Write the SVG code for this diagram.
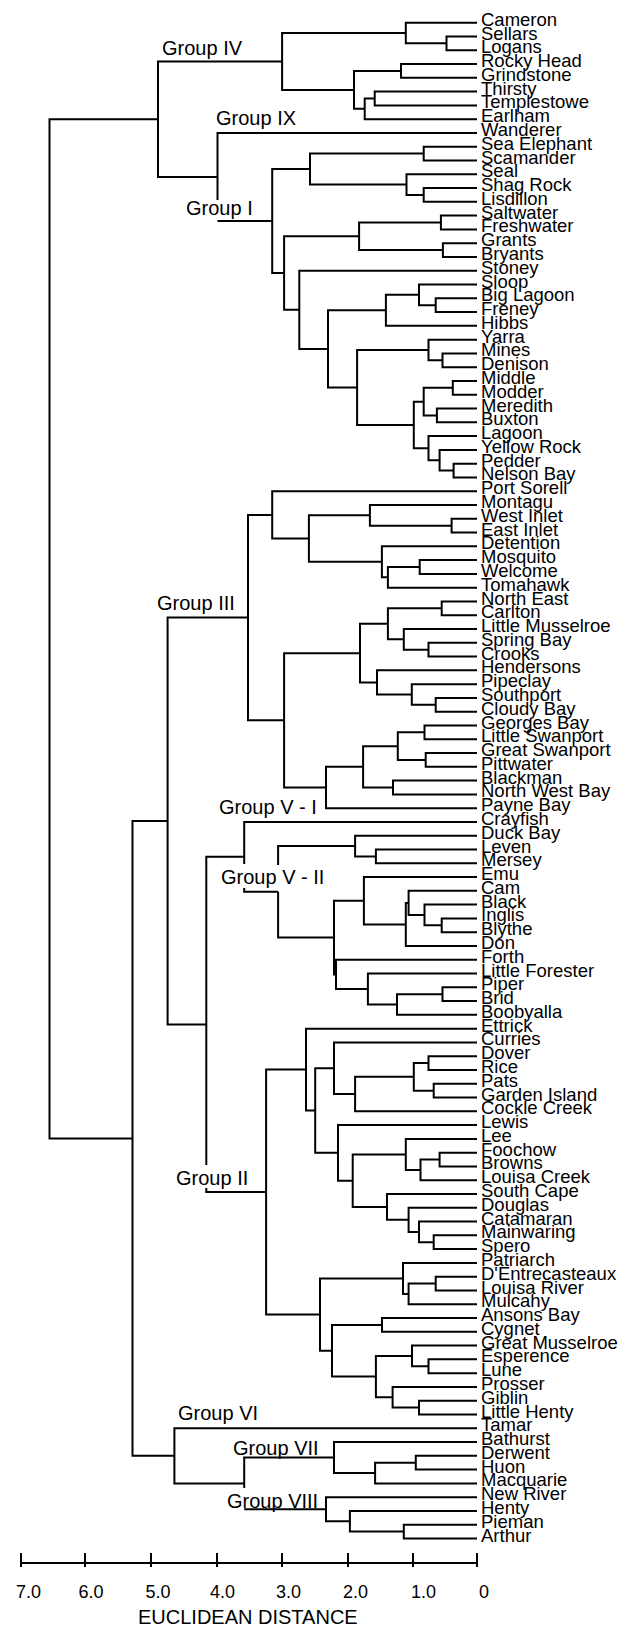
<svg xmlns="http://www.w3.org/2000/svg" width="620" height="1628" viewBox="0 0 620 1628">
<style>
.c{fill:none;stroke:#000;stroke-width:2;vector-effect:non-scaling-stroke;stroke-linejoin:miter}
.a{fill:none;stroke:#000;stroke-width:2}
.l text{font-family:"Liberation Sans",Arial,sans-serif;font-size:18.5px;fill:#000}
.g{font-family:"Liberation Sans",Arial,sans-serif;font-size:20px;fill:#000}
.t{font-family:"Liberation Sans",Arial,sans-serif;font-size:18px;fill:#000}
</style>
<rect width="620" height="1628" fill="#fff"/>
<g id="connectors" transform="matrix(1 0 0 13.78 0 8.92)">
<path class="c" d="M477 2H446.5V3H477"/>
<path class="c" d="M477 1H405.8V2.5H446.5"/>
<path class="c" d="M477 4H401V5H477"/>
<path class="c" d="M477 6H374.7V7H477"/>
<path class="c" d="M374.7 6.5H364.7V8H477"/>
<path class="c" d="M401 4.5H354V7.25H364.7"/>
<path class="c" d="M405.8 1.75H282.1V5.875H354"/>
<path class="c" d="M282.1 3.8125H158V12.198H217.5"/>
<path class="c" d="M477 9H217.5V13.867M217.5 15.3965H272.2"/>
<path class="c" d="M477 10H423.7V11H477"/>
<path class="c" d="M477 13H423.7V14H477"/>
<path class="c" d="M477 12H406.5V13.5H423.7"/>
<path class="c" d="M423.7 10.5H310V12.75H406.5"/>
<path class="c" d="M477 15H440.9V16H477"/>
<path class="c" d="M477 17H442.9V18H477"/>
<path class="c" d="M440.9 15.5H359.1V17.5H442.9"/>
<path class="c" d="M477 21H435.7V22H477"/>
<path class="c" d="M477 20H419V21.5H435.7"/>
<path class="c" d="M419 20.75H385.9V23H477"/>
<path class="c" d="M477 25H442.5V26H477"/>
<path class="c" d="M477 24H428.5V25.5H442.5"/>
<path class="c" d="M477 27H452.8V28H477"/>
<path class="c" d="M477 29H436.9V30H477"/>
<path class="c" d="M452.8 27.5H423.7V29.5H436.9"/>
<path class="c" d="M477 33H453.6V34H477"/>
<path class="c" d="M477 32H439.6V33.5H453.6"/>
<path class="c" d="M477 31H428.5V32.75H439.6"/>
<path class="c" d="M423.7 28.5H413.8V31.875H428.5"/>
<path class="c" d="M428.5 24.75H357.1V30.1875H413.8"/>
<path class="c" d="M385.9 21.875H328V27.46875H357.1"/>
<path class="c" d="M477 19H299.3V24.671875H328"/>
<path class="c" d="M359.1 16.5H284.1V21.8359H299.3"/>
<path class="c" d="M310 11.625H272.2V19.168H284.1"/>
<path class="c" d="M477 37H451.6V38H477"/>
<path class="c" d="M477 36H369.9V37.5H451.6"/>
<path class="c" d="M477 40H419.7V41H477"/>
<path class="c" d="M419.7 40.5H387.9V42H477"/>
<path class="c" d="M477 39H381.9V41.25H387.9"/>
<path class="c" d="M369.9 36.75H308.9V40.125H381.9"/>
<path class="c" d="M477 35H272.2V38.4375H308.9"/>
<path class="c" d="M477 43H441.7V44H477"/>
<path class="c" d="M477 46H428.5V47H477"/>
<path class="c" d="M477 45H403.8V46.5H428.5"/>
<path class="c" d="M441.7 43.5H387.9V45.75H403.8"/>
<path class="c" d="M477 50H435.7V51H477"/>
<path class="c" d="M477 49H411.8V50.5H435.7"/>
<path class="c" d="M477 48H377V49.75H411.8"/>
<path class="c" d="M387.9 44.625H360V48.875H377"/>
<path class="c" d="M477 52H424.5V53H477"/>
<path class="c" d="M477 54H425.7V55H477"/>
<path class="c" d="M424.5 52.5H397.8V54.5H425.7"/>
<path class="c" d="M477 56H393V57H477"/>
<path class="c" d="M397.8 53.5H363.1V56.5H393"/>
<path class="c" d="M363.1 55H326V58H477"/>
<path class="c" d="M360 46.75H284.1V56.5H326"/>
<path class="c" d="M272.2 36.71875H248V51.625H284.1"/>
<path class="c" d="M477 61H375.9V62H477"/>
<path class="c" d="M477 60H355.1V61.5H375.9"/>
<path class="c" d="M477 66H441.7V67H477"/>
<path class="c" d="M477 65H424.5V66.5H441.7"/>
<path class="c" d="M477 64H408.6V65.75H424.5"/>
<path class="c" d="M408.6 64.875H405.8V68H477"/>
<path class="c" d="M477 63H363.9V66.4375H405.8"/>
<path class="c" d="M477 71H442.5V72H477"/>
<path class="c" d="M442.5 71.5H397V73H477"/>
<path class="c" d="M477 70H367.9V72.25H397"/>
<path class="c" d="M477 69H336V71.125H367.9"/>
<path class="c" d="M363.9 64.71875H334V70.0625H336"/>
<path class="c" d="M355.1 60.75H278.1V62.12M278.1 64.0703V67.390625H334"/>
<path class="c" d="M477 59H244.2V62.05M244.2 63.79V64.0703H278.1"/>
<path class="c" d="M477 76H428.5V77H477"/>
<path class="c" d="M477 78H433.7V79H477"/>
<path class="c" d="M428.5 76.5H413.8V78.5H433.7"/>
<path class="c" d="M413.8 77.5H355.1V80H477"/>
<path class="c" d="M477 75H334V78.75H355.1"/>
<path class="c" d="M477 83H439.6V84H477"/>
<path class="c" d="M439.6 83.5H420.5V85H477"/>
<path class="c" d="M477 82H405.8V84.25H420.5"/>
<path class="c" d="M477 89H433.7V90H477"/>
<path class="c" d="M477 88H419V89.5H433.7"/>
<path class="c" d="M477 87H408.6V88.75H419"/>
<path class="c" d="M477 86H387V87.875H408.6"/>
<path class="c" d="M405.8 83.125H352.7V86.9375H387"/>
<path class="c" d="M477 81H338V85.03125H352.7"/>
<path class="c" d="M334 76.875H315.2V83.0156H338"/>
<path class="c" d="M477 74H306V79.945H315.2"/>
<path class="c" d="M477 92H435.7V93H477"/>
<path class="c" d="M435.7 92.5H408.6V94H477"/>
<path class="c" d="M477 91H403V93.25H408.6"/>
<path class="c" d="M477 95H382V96H477"/>
<path class="c" d="M477 98H428.5V99H477"/>
<path class="c" d="M477 97H412V98.5H428.5"/>
<path class="c" d="M477 101H419V102H477"/>
<path class="c" d="M477 100H392.6V101.5H419"/>
<path class="c" d="M412 97.75H375.9V100.75H392.6"/>
<path class="c" d="M382 95.5H332V99.25H375.9"/>
<path class="c" d="M403 92.125H320V97.375H332"/>
<path class="c" d="M306 76.9727H266.1V94.75H320"/>
<path class="c" d="M244.2 61.535H206.3V83.9M206.3 85.56V85.861H266.1"/>
<path class="c" d="M248 44.171875H167.6V73.698H206.3"/>
<path class="c" d="M477 105H415.8V106H477"/>
<path class="c" d="M415.8 105.5H375.1V107H477"/>
<path class="c" d="M477 104H334V106.25H375.1"/>
<path class="c" d="M477 110H403.8V111H477"/>
<path class="c" d="M477 109H349.9V110.5H403.8"/>
<path class="c" d="M477 108H326V109.75H349.9"/>
<path class="c" d="M334 105.125H244.2V107.33M244.2 108.875H326"/>
<path class="c" d="M477 103H174.4V107H244.2"/>
<path class="c" d="M167.6 58.935H132.5V105H174.4"/>
<path class="c" d="M158 8.0053H49.5V81.9675H132.5"/>
</g>
<g class="l">
<g id="n1"><text x="481" y="25.7">Cameron</text></g>
<g id="n2"><text x="481" y="39.5">Sellars</text></g>
<g id="n3"><text x="481" y="53.3">Logans</text></g>
<g id="n4"><text x="481" y="67.0">Rocky Head</text></g>
<g id="n5"><text x="481" y="80.8">Grindstone</text></g>
<g id="n6"><text x="481" y="94.6">Thirsty</text></g>
<g id="n7"><text x="481" y="108.4">Templestowe</text></g>
<g id="n8"><text x="481" y="122.2">Earlham</text></g>
<g id="n9"><text x="481" y="135.9">Wanderer</text></g>
<g id="n10"><text x="481" y="149.7">Sea Elephant</text></g>
<g id="n11"><text x="481" y="163.5">Scamander</text></g>
<g id="n12"><text x="481" y="177.3">Seal</text></g>
<g id="n13"><text x="481" y="191.1">Shag Rock</text></g>
<g id="n14"><text x="481" y="204.8">Lisdillon</text></g>
<g id="n15"><text x="481" y="218.6">Saltwater</text></g>
<g id="n16"><text x="481" y="232.4">Freshwater</text></g>
<g id="n17"><text x="481" y="246.2">Grants</text></g>
<g id="n18"><text x="481" y="260.0">Bryants</text></g>
<g id="n19"><text x="481" y="273.7">Stoney</text></g>
<g id="n20"><text x="481" y="287.5">Sloop</text></g>
<g id="n21"><text x="481" y="301.3">Big Lagoon</text></g>
<g id="n22"><text x="481" y="315.1">Freney</text></g>
<g id="n23"><text x="481" y="328.9">Hibbs</text></g>
<g id="n24"><text x="481" y="342.6">Yarra</text></g>
<g id="n25"><text x="481" y="356.4">Mines</text></g>
<g id="n26"><text x="481" y="370.2">Denison</text></g>
<g id="n27"><text x="481" y="384.0">Middle</text></g>
<g id="n28"><text x="481" y="397.8">Modder</text></g>
<g id="n29"><text x="481" y="411.5">Meredith</text></g>
<g id="n30"><text x="481" y="425.3">Buxton</text></g>
<g id="n31"><text x="481" y="439.1">Lagoon</text></g>
<g id="n32"><text x="481" y="452.9">Yellow Rock</text></g>
<g id="n33"><text x="481" y="466.7">Pedder</text></g>
<g id="n34"><text x="481" y="480.4">Nelson Bay</text></g>
<g id="n35"><text x="481" y="494.2">Port Sorell</text></g>
<g id="n36"><text x="481" y="508.0">Montagu</text></g>
<g id="n37"><text x="481" y="521.8">West Inlet</text></g>
<g id="n38"><text x="481" y="535.6">East Inlet</text></g>
<g id="n39"><text x="481" y="549.3">Detention</text></g>
<g id="n40"><text x="481" y="563.1">Mosquito</text></g>
<g id="n41"><text x="481" y="576.9">Welcome</text></g>
<g id="n42"><text x="481" y="590.7">Tomahawk</text></g>
<g id="n43"><text x="481" y="604.5">North East</text></g>
<g id="n44"><text x="481" y="618.2">Carlton</text></g>
<g id="n45"><text x="481" y="632.0">Little Musselroe</text></g>
<g id="n46"><text x="481" y="645.8">Spring Bay</text></g>
<g id="n47"><text x="481" y="659.6">Crooks</text></g>
<g id="n48"><text x="481" y="673.4">Hendersons</text></g>
<g id="n49"><text x="481" y="687.1">Pipeclay</text></g>
<g id="n50"><text x="481" y="700.9">Southport</text></g>
<g id="n51"><text x="481" y="714.7">Cloudy Bay</text></g>
<g id="n52"><text x="481" y="728.5">Georges Bay</text></g>
<g id="n53"><text x="481" y="742.3">Little Swanport</text></g>
<g id="n54"><text x="481" y="756.0">Great Swanport</text></g>
<g id="n55"><text x="481" y="769.8">Pittwater</text></g>
<g id="n56"><text x="481" y="783.6">Blackman</text></g>
<g id="n57"><text x="481" y="797.4">North West Bay</text></g>
<g id="n58"><text x="481" y="811.2">Payne Bay</text></g>
<g id="n59"><text x="481" y="824.9">Crayfish</text></g>
<g id="n60"><text x="481" y="838.7">Duck Bay</text></g>
<g id="n61"><text x="481" y="852.5">Leven</text></g>
<g id="n62"><text x="481" y="866.3">Mersey</text></g>
<g id="n63"><text x="481" y="880.1">Emu</text></g>
<g id="n64"><text x="481" y="893.8">Cam</text></g>
<g id="n65"><text x="481" y="907.6">Black</text></g>
<g id="n66"><text x="481" y="921.4">Inglis</text></g>
<g id="n67"><text x="481" y="935.2">Blythe</text></g>
<g id="n68"><text x="481" y="949.0">Don</text></g>
<g id="n69"><text x="481" y="962.7">Forth</text></g>
<g id="n70"><text x="481" y="976.5">Little Forester</text></g>
<g id="n71"><text x="481" y="990.3">Piper</text></g>
<g id="n72"><text x="481" y="1004.1">Brid</text></g>
<g id="n73"><text x="481" y="1017.9">Boobyalla</text></g>
<g id="n74"><text x="481" y="1031.6">Ettrick</text></g>
<g id="n75"><text x="481" y="1045.4">Curries</text></g>
<g id="n76"><text x="481" y="1059.2">Dover</text></g>
<g id="n77"><text x="481" y="1073.0">Rice</text></g>
<g id="n78"><text x="481" y="1086.8">Pats</text></g>
<g id="n79"><text x="481" y="1100.5">Garden Island</text></g>
<g id="n80"><text x="481" y="1114.3">Cockle Creek</text></g>
<g id="n81"><text x="481" y="1128.1">Lewis</text></g>
<g id="n82"><text x="481" y="1141.9">Lee</text></g>
<g id="n83"><text x="481" y="1155.7">Foochow</text></g>
<g id="n84"><text x="481" y="1169.4">Browns</text></g>
<g id="n85"><text x="481" y="1183.2">Louisa Creek</text></g>
<g id="n86"><text x="481" y="1197.0">South Cape</text></g>
<g id="n87"><text x="481" y="1210.8">Douglas</text></g>
<g id="n88"><text x="481" y="1224.6">Catamaran</text></g>
<g id="n89"><text x="481" y="1238.3">Mainwaring</text></g>
<g id="n90"><text x="481" y="1252.1">Spero</text></g>
<g id="n91"><text x="481" y="1265.9">Patriarch</text></g>
<g id="n92"><text x="481" y="1279.7">D'Entrecasteaux</text></g>
<g id="n93"><text x="481" y="1293.5">Louisa River</text></g>
<g id="n94"><text x="481" y="1307.2">Mulcahy</text></g>
<g id="n95"><text x="481" y="1321.0">Ansons Bay</text></g>
<g id="n96"><text x="481" y="1334.8">Cygnet</text></g>
<g id="n97"><text x="481" y="1348.6">Great Musselroe</text></g>
<g id="n98"><text x="481" y="1362.4">Esperence</text></g>
<g id="n99"><text x="481" y="1376.1">Lune</text></g>
<g id="n100"><text x="481" y="1389.9">Prosser</text></g>
<g id="n101"><text x="481" y="1403.7">Giblin</text></g>
<g id="n102"><text x="481" y="1417.5">Little Henty</text></g>
<g id="n103"><text x="481" y="1431.3">Tamar</text></g>
<g id="n104"><text x="481" y="1445.0">Bathurst</text></g>
<g id="n105"><text x="481" y="1458.8">Derwent</text></g>
<g id="n106"><text x="481" y="1472.6">Huon</text></g>
<g id="n107"><text x="481" y="1486.4">Macquarie</text></g>
<g id="n108"><text x="481" y="1500.2">New River</text></g>
<g id="n109"><text x="481" y="1513.9">Henty</text></g>
<g id="n110"><text x="481" y="1527.7">Pieman</text></g>
<g id="n111"><text x="481" y="1541.5">Arthur</text></g>
</g>
<g id="group-labels">
<text class="g" x="162" y="55">Group IV</text>
<text class="g" x="216" y="125">Group IX</text>
<text class="g" x="186" y="215">Group I</text>
<text class="g" x="157" y="610">Group III</text>
<text class="g" x="219" y="814">Group V - I</text>
<text class="g" x="221" y="884">Group V - II</text>
<text class="g" x="176" y="1185">Group II</text>
<text class="g" x="178" y="1420">Group VI</text>
<text class="g" x="233" y="1455">Group VII</text>
<text class="g" x="227" y="1508">Group VIII</text>
</g>
<g id="axis">
<path class="a" d="M20 1563H478M21 1553V1567M85 1553V1567M151 1553V1567M217 1553V1567M282 1553V1567M348 1553V1567M413 1553V1567M477 1553V1567"/>
<text class="t" x="16" y="1598">7.0</text>
<text class="t" x="78.5" y="1598">6.0</text>
<text class="t" x="145.5" y="1598">5.0</text>
<text class="t" x="210" y="1598">4.0</text>
<text class="t" x="276" y="1598">3.0</text>
<text class="t" x="343" y="1598">2.0</text>
<text class="t" x="411" y="1598">1.0</text>
<text class="t" x="479" y="1598">0</text>
<text class="g" x="138" y="1624">EUCLIDEAN DISTANCE</text>
</g>
</svg>
